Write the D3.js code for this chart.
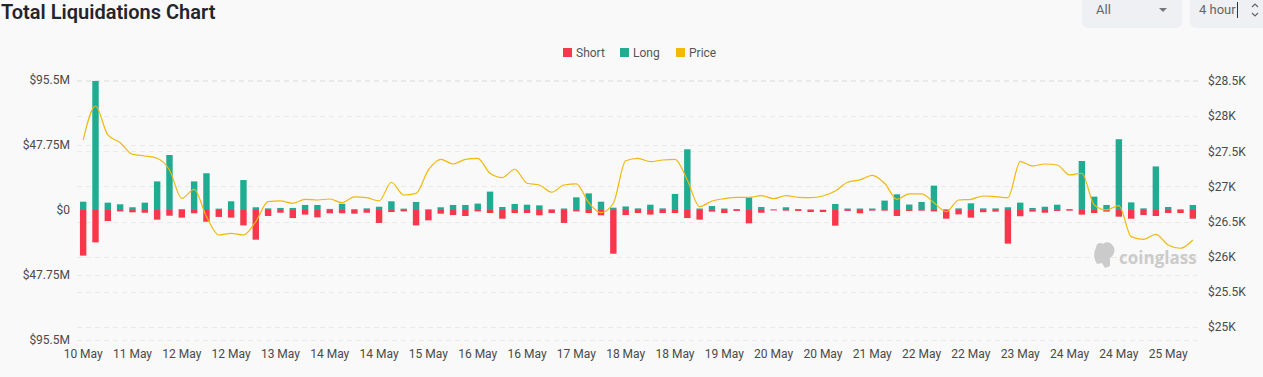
<!DOCTYPE html>
<html><head><meta charset="utf-8">
<script src="https://cdn.jsdelivr.net/npm/d3@7/dist/d3.min.js"></script>
<style>
html,body{margin:0;padding:0;background:#f9f9f9;overflow:hidden;}
svg{display:block;font-family:Roboto,"Noto Sans",sans-serif;}
</style></head>
<body>
<svg id="c" width="1263" height="377"></svg>
<script>
const categories = [
 "10 May 16:00","10 May 20:00",
 "11 May 00:00","11 May 04:00","11 May 08:00","11 May 12:00","11 May 16:00","11 May 20:00",
 "12 May 00:00","12 May 04:00","12 May 08:00","12 May 12:00","12 May 16:00","12 May 20:00",
 "13 May 00:00","13 May 04:00","13 May 08:00","13 May 12:00","13 May 16:00","13 May 20:00",
 "14 May 00:00","14 May 04:00","14 May 08:00","14 May 12:00","14 May 16:00","14 May 20:00",
 "15 May 00:00","15 May 04:00","15 May 08:00","15 May 12:00","15 May 16:00","15 May 20:00",
 "16 May 00:00","16 May 04:00","16 May 08:00","16 May 12:00","16 May 16:00","16 May 20:00",
 "17 May 00:00","17 May 04:00","17 May 08:00","17 May 12:00","17 May 16:00","17 May 20:00",
 "18 May 00:00","18 May 04:00","18 May 08:00","18 May 12:00","18 May 16:00","18 May 20:00",
 "19 May 00:00","19 May 04:00","19 May 08:00","19 May 12:00","19 May 16:00","19 May 20:00",
 "20 May 00:00","20 May 04:00","20 May 08:00","20 May 12:00","20 May 16:00","20 May 20:00",
 "21 May 00:00","21 May 04:00","21 May 08:00","21 May 12:00","21 May 16:00","21 May 20:00",
 "22 May 00:00","22 May 04:00","22 May 08:00","22 May 12:00","22 May 16:00","22 May 20:00",
 "23 May 00:00","23 May 04:00","23 May 08:00","23 May 12:00","23 May 16:00","23 May 20:00",
 "24 May 00:00","24 May 04:00","24 May 08:00","24 May 12:00","24 May 16:00","24 May 20:00",
 "25 May 00:00","25 May 04:00","25 May 08:00","25 May 12:00","25 May 16:00"
];
// Long liquidations, $M
const longs = [
 6.1,94.8,5.4,4.2,2.0,5.4,21.0,40.4,0.6,21.0,
 27.0,1.0,6.4,22.0,2.0,1.2,1.5,1.5,3.7,3.7,
 0.8,4.6,0.6,1.2,2.4,6.4,1.0,5.9,0.5,2.0,
 3.7,3.7,4.7,13.5,2.2,4.4,3.9,3.4,0.5,1.1,
 9.3,12.2,6.1,1.7,2.6,1.2,3.9,1.2,11.8,44.6,
 1.1,2.9,1.1,0.7,9.3,2.2,0.5,2.0,0.7,0.4,
 0.2,4.4,1.1,1.1,1.1,6.9,11.5,4.0,5.9,17.9,
 0.5,1.2,4.9,1.2,1.2,2.0,5.4,1.5,2.4,3.9,
 0.7,36.0,9.8,3.7,52.0,5.6,1.2,32.0,2.2,0.5,3.7
];
// Short liquidations, $M
const shorts = [
 33.5,23.8,8.1,1.0,1.7,2.0,7.1,4.2,5.6,2.4,
 8.6,5.1,5.6,11.3,21.8,4.4,2.0,5.9,3.4,5.4,
 2.4,2.4,2.7,2.0,9.5,1.5,1.0,11.3,7.6,2.7,
 3.7,4.4,1.0,2.2,6.4,2.2,2.2,3.9,2.2,9.5,
 1.0,2.2,3.9,32.1,3.7,2.2,3.4,2.2,2.2,5.9,
 7.1,1.2,2.2,0.7,9.8,2.0,0.3,0.5,0.7,1.5,
 1.5,11.5,0.7,2.4,0.5,0.5,4.4,0.7,0.5,1.0,
 6.4,3.2,5.6,1.6,1.2,24.7,4.6,1.2,2.0,0.7,
 0.5,3.4,2.2,1.2,4.9,6.4,3.7,4.4,2.2,2.2,6.4
];
// BTC price, $
const prices = [
 27661,28144,27732,27622,27457,27433,27400,27234,26831,26959,
 26570,26309,26333,26309,26500,26783,26793,26760,26817,26807,
 26821,26769,26852,26840,26793,27059,26878,26902,27234,27386,
 27319,27386,27400,27187,27125,27244,27045,27020,26917,27020,
 27035,26769,26626,26760,27365,27400,27352,27376,27386,27092,
 26712,26793,26826,26845,26845,26869,26826,26869,26845,26840,
 26864,26935,27059,27092,27158,27045,26817,26893,26893,26769,
 26641,26807,26817,26864,26854,26840,27352,27291,27319,27305,
 27163,27187,26736,26665,26726,26285,26248,26319,26167,26120,26238
];
const leftTicks = [95.5, 47.75, 0, -47.75, -95.5];
const rightTicks = [25000, 25500, 26000, 26500, 27000, 27500, 28000, 28500];
const seriesNames = ["Short", "Long", "Price"];

const COL = {Short:"#f6384a", Long:"#1fac90", Price:"#f0b90b"};
const svg = d3.select("#c");
const L = 77, R = 1199, T = 80, B = 340;

const x = d3.scaleBand().domain(categories).range([L, R]).paddingInner(0.48).paddingOuter(0.24);
const yL = d3.scaleLinear().domain([-95.5, 95.5]).range([B, T]);
const yR = d3.scaleLinear().domain([24815, 28514]).range([B, T]);

// Title
svg.append("text").attr("x", 1).attr("y", 19).attr("font-size", 20).attr("font-weight", 600)
  .attr("fill", "#23252b").attr("font-family", "Roboto,sans-serif").text("Total Liquidations Chart");

// Controls
const ctl = svg.append("g");
ctl.append("rect").attr("x", 1082).attr("y", -10).attr("width", 100).attr("height", 38).attr("rx", 6).attr("fill", "#eef0f3");
ctl.append("text").attr("x", 1096).attr("y", 14).attr("font-size", 13).attr("fill", "#666").text("All");
ctl.append("path").attr("d", "M1159,8 L1167,8 L1163,12 Z").attr("fill", "#777");
ctl.append("rect").attr("x", 1190).attr("y", -10).attr("width", 90).attr("height", 38).attr("rx", 6).attr("fill", "#eef0f3");
ctl.append("text").attr("x", 1199).attr("y", 14).attr("font-size", 13).attr("fill", "#666").text("4 hour");
ctl.append("line").attr("x1", 1237.5).attr("x2", 1237.5).attr("y1", 2).attr("y2", 18).attr("stroke", "#333").attr("stroke-width", 1);
ctl.append("path").attr("d", "M1252,7 L1255,4 L1258,7 M1252,13 L1255,16 L1258,13").attr("fill", "none").attr("stroke", "#666").attr("stroke-width", 1.2);

// Legend
const legX = {Short: 563, Long: 620, Price: 676};
const lg = svg.append("g").attr("font-size", 12).attr("fill", "#555");
seriesNames.forEach(n => {
  lg.append("rect").attr("x", legX[n]).attr("y", 48).attr("width", 9).attr("height", 9).attr("fill", COL[n]);
  lg.append("text").attr("x", legX[n] + 13).attr("y", 57).attr("fill", "#555").text(n);
});

// Grid
const grid = svg.append("g").attr("stroke", "#e9e9e9").attr("stroke-dasharray", "5,4").attr("stroke-width", 1);
leftTicks.filter(t => t !== 0).forEach(t => {
  grid.append("line").attr("x1", L).attr("x2", R).attr("y1", Math.round(yL(t)) + 0.5).attr("y2", Math.round(yL(t)) + 0.5);
});
rightTicks.forEach(t => {
  grid.append("line").attr("x1", L).attr("x2", R).attr("y1", Math.round(yR(t)) + 0.5).attr("y2", Math.round(yR(t)) + 0.5);
});

// Axes
const fmtL = v => "$" + (v === 0 ? "0" : Math.abs(v) + "M");
const axL = svg.append("g").attr("transform", `translate(${L - 7},0)`)
  .call(d3.axisLeft(yL).tickValues(leftTicks).tickFormat(fmtL).tickSize(0).tickPadding(0));
const fmtR = v => "$" + (v / 1000) + "K";
const axR = svg.append("g").attr("transform", `translate(${R + 9},0)`)
  .call(d3.axisRight(yR).tickValues(rightTicks).tickFormat(fmtR).tickSize(0).tickPadding(0));
const tickIdx = categories.filter((c, i) => i % 4 === 0);
const axB = svg.append("g").attr("transform", `translate(0,${B + 9})`)
  .call(d3.axisBottom(x).tickValues(tickIdx).tickFormat(c => c.split(" ").slice(0, 2).join(" ")).tickSize(0).tickPadding(0));
[axL, axR, axB].forEach(a => {
  a.select(".domain").remove();
  a.selectAll("text").attr("font-size", 12).attr("fill", "#4a4a4a").attr("font-family", "Roboto,sans-serif");
});
axB.selectAll("text").attr("dy", "0.71em");

// Watermark
const wm = svg.append("g").attr("fill", "#cbcbcb");
wm.append("path").attr("d", "M1096,248 C1096,243 1100,242 1103,244 C1106,241 1111,242 1113,246 C1116,249 1114,256 1110,258 L1110,266 L1105,268 L1102,263 L1097,264 C1094,259 1093,253 1096,248 Z");
wm.append("text").attr("x", 1119).attr("y", 264).attr("font-size", 17).attr("font-weight", 700)
  .attr("font-family", "'Open Sans',sans-serif").attr("fill", "#cbcbcb").text("coinglass");

// Bars
const data = categories.map((c, i) => ({c, long: longs[i], short: shorts[i], price: prices[i]}));
const bars = svg.append("g");
bars.selectAll(".l").data(data).join("rect").attr("class", "l")
  .attr("x", d => x(d.c)).attr("width", x.bandwidth())
  .attr("y", d => yL(d.long)).attr("height", d => yL(0) - yL(d.long))
  .attr("fill", COL.Long);
bars.selectAll(".s").data(data).join("rect").attr("class", "s")
  .attr("x", d => x(d.c)).attr("width", x.bandwidth())
  .attr("y", yL(0)).attr("height", d => yL(-d.short) - yL(0))
  .attr("fill", COL.Short);

// Price line
const line = d3.line().x(d => x(d.c) + x.bandwidth() / 2).y(d => yR(d.price)).curve(d3.curveMonotoneX);
svg.append("path").datum(data).attr("d", line).attr("fill", "none").attr("stroke", COL.Price).attr("stroke-width", 1.2);
</script>
</body></html>
